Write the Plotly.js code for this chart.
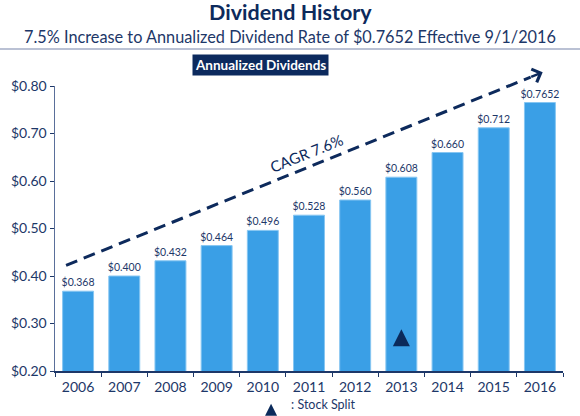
<!DOCTYPE html>
<html>
<head>
<meta charset="utf-8">
<script src="https://cdn.plot.ly/plotly-3.0.1.min.js"></script>
<style>
  html, body { margin: 0; padding: 0; background: #ffffff; }
  #chart { width: 580px; height: 416px; }
</style>
</head>
<body>
<div id="chart"></div>
<script>
// Dividend history - annualized dividends per year
const years = ['2006', '2007', '2008', '2009', '2010', '2011', '2012', '2013', '2014', '2015', '2016'];
const dividends = [0.368, 0.400, 0.432, 0.464, 0.496, 0.528, 0.560, 0.608, 0.660, 0.712, 0.7652];
const dividendLabels = ['$0.368', '$0.400', '$0.432', '$0.464', '$0.496', '$0.528', '$0.560', '$0.608', '$0.660', '$0.712', '$0.7652'];
const splitYears = ['2013'];
const cagrLabel = 'CAGR 7.6%';

const NAVY = '#0d2a5c';
const TEXT = '#1d3768';
const BAR = '#3a9fe6';
const FONT = 'Lato, "Open Sans", sans-serif';

const yMin = 0.2, yMax = 0.8;
const toPaper = v => (v - yMin) / (yMax - yMin);

// trend arrow (category index / value units)
const trendStart = { x: -0.26, y: 0.4225 };
const trendTip = { x: 10.06, y: 0.829 };
const trendEndX = 9.8;
const trendEndY = trendStart.y + (trendTip.y - trendStart.y) * (trendEndX - trendStart.x) / (trendTip.x - trendStart.x);

const bars = {
  type: 'bar',
  x: years,
  y: dividends,
  text: dividendLabels,
  textposition: 'outside',
  constraintext: 'none',
  cliponaxis: false,
  textfont: { family: FONT, size: 10.5, color: TEXT },
  marker: { color: BAR, line: { color: '#86c6f2', width: 1 } },
  hoverinfo: 'skip',
  showlegend: false
};

const split = {
  type: 'scatter',
  mode: 'markers',
  x: splitYears,
  y: splitYears.map(() => 0.288),
  marker: { symbol: 'arrow-up', size: 17, color: '#0b2a5b' },
  name: ': Stock Split',
  hoverinfo: 'skip',
  showlegend: true
};

const layout = {
  width: 580,
  height: 416,
  paper_bgcolor: '#ffffff',
  plot_bgcolor: '#ffffff',
  margin: { l: 55, r: 17, t: 86, b: 45, autoexpand: false },
  font: { family: FONT, color: TEXT },
  bargap: 0.33,
  xaxis: {
    type: 'category',
    tickson: 'boundaries',
    ticks: 'outside',
    ticklen: 4,
    tickcolor: TEXT,
    ticklabelstandoff: 3,
    showline: true,
    linecolor: TEXT,
    linewidth: 1.5,
    showgrid: false,
    tickfont: { family: FONT, size: 14, color: TEXT }
  },
  yaxis: {
    range: [yMin, yMax],
    dtick: 0.1,
    tickformat: '$.2f',
    ticks: 'outside',
    ticklen: 4,
    tickcolor: TEXT,
    showline: true,
    linecolor: '#5a6f9a',
    linewidth: 1.5,
    showgrid: false,
    zeroline: false,
    tickfont: { family: FONT, size: 14, color: TEXT }
  },
  legend: {
    orientation: 'h',
    x: 0.386, xanchor: 'left',
    y: -0.1158, yanchor: 'middle',
    itemsizing: 'constant',
    font: { family: FONT, size: 12.5, color: TEXT },
    bgcolor: 'rgba(0,0,0,0)'
  },
  shapes: [
    {
      type: 'line', xref: 'paper', yref: 'paper',
      x0: -55 / 508, x1: 1 + 17 / 508, y0: (371 - 49) / 285, y1: (371 - 49) / 285,
      line: { color: '#a3acc6', width: 1.5 }
    },
    {
      type: 'line', xref: 'x', yref: 'paper',
      x0: trendStart.x, y0: toPaper(trendStart.y),
      x1: trendEndX, y1: toPaper(trendEndY),
      line: { color: NAVY, width: 3, dash: '12px,7px' }
    }
  ],
  annotations: [
    {
      xref: 'paper', yref: 'paper', x: 0.4626, y: (371 - 12) / 285,
      xanchor: 'center', yanchor: 'middle', showarrow: false,
      text: '<b>Dividend History</b>',
      font: { family: FONT, size: 21.5, color: NAVY }
    },
    {
      xref: 'paper', yref: 'paper', x: 0.4626, y: (371 - 37) / 285,
      xanchor: 'center', yanchor: 'middle', showarrow: false,
      text: '7.5% Increase to Annualized Dividend Rate of $0.7652 Effective 9/1/2016',
      font: { family: FONT, size: 16.3, color: TEXT }
    },
    {
      xref: 'paper', yref: 'paper', x: 0.4055, y: (371 - 65) / 285,
      xanchor: 'center', yanchor: 'middle', showarrow: false,
      text: '<b>Annualized Dividends</b>',
      bgcolor: '#0c2a5e', borderpad: 2,
      font: { family: FONT, size: 13.5, color: '#ffffff' }
    },
    {
      xref: 'x', yref: 'paper', x: 4.95, y: (371 - 153) / 285,
      xanchor: 'center', yanchor: 'middle', showarrow: false,
      text: cagrLabel, textangle: -22,
      font: { family: FONT, size: 15, color: NAVY }
    },
    {
      xref: 'x', yref: 'paper', x: trendTip.x, y: toPaper(trendTip.y),
      text: '', showarrow: true,
      arrowhead: 4, arrowsize: 1.1, arrowwidth: 2.5, arrowcolor: NAVY,
      ax: -13, ay: 5.3
    }
  ]
};

Plotly.newPlot('chart', [bars, split], layout, { displayModeBar: false, staticPlot: true });
</script>
</body>
</html>
